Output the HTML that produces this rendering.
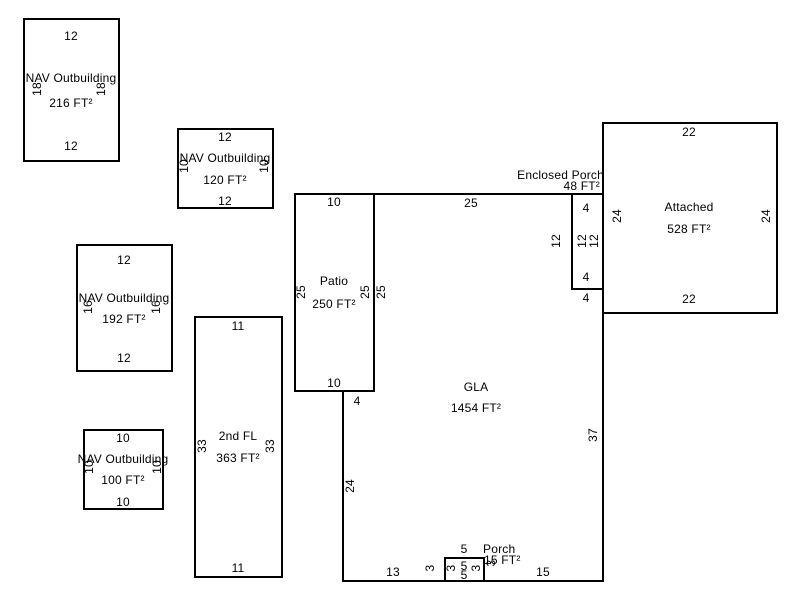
<!DOCTYPE html>
<html><head><meta charset="utf-8"><style>
html,body{margin:0;padding:0;background:#fff;}
svg{display:block;}
text{font-family:"Liberation Sans",Arial,sans-serif;font-size:12px;letter-spacing:0.2px;fill:#000;text-anchor:middle;dominant-baseline:central;}
.r{fill:none;stroke:#000;stroke-width:2;}
</style></head><body>
<svg width="800" height="600" xmlns="http://www.w3.org/2000/svg">
<!-- NAV 1 -->
<rect class="r" x="24" y="19" width="95" height="142"/>
<text x="71" y="36">12</text>
<text x="71" y="78">NAV Outbuilding</text>
<text transform="translate(37,89) rotate(-90)">18</text>
<text transform="translate(101,89) rotate(-90)">18</text>
<text x="71" y="103">216 FT²</text>
<text x="71" y="146">12</text>
<!-- NAV 2 -->
<rect class="r" x="178" y="129" width="95" height="79"/>
<text x="225" y="137">12</text>
<text x="225" y="158">NAV Outbuilding</text>
<text transform="translate(184,166) rotate(-90)">10</text>
<text transform="translate(264,166) rotate(-90)">10</text>
<text x="225" y="180">120 FT²</text>
<text x="225" y="201">12</text>
<!-- NAV 3 -->
<rect class="r" x="77" y="245" width="95" height="126"/>
<text x="124" y="260">12</text>
<text x="124" y="298">NAV Outbuilding</text>
<text transform="translate(88,307) rotate(-90)">16</text>
<text transform="translate(156,307) rotate(-90)">16</text>
<text x="124" y="319">192 FT²</text>
<text x="124" y="358">12</text>
<!-- NAV 4 -->
<rect class="r" x="84" y="430" width="79" height="79"/>
<text x="123" y="438">10</text>
<text x="123" y="459">NAV Outbuilding</text>
<text transform="translate(89,467) rotate(-90)">10</text>
<text transform="translate(157,467) rotate(-90)">10</text>
<text x="123" y="480">100 FT²</text>
<text x="123" y="502">10</text>
<!-- 2nd FL -->
<rect class="r" x="195" y="317" width="87" height="260"/>
<text x="238" y="326">11</text>
<text x="238" y="436">2nd FL</text>
<text transform="translate(202,446) rotate(-90)">33</text>
<text transform="translate(270,446) rotate(-90)">33</text>
<text x="238" y="458">363 FT²</text>
<text x="238" y="568">11</text>
<!-- Patio -->
<rect class="r" x="295" y="194" width="79" height="197"/>
<text x="334" y="202">10</text>
<text x="334" y="281">Patio</text>
<text transform="translate(301,292) rotate(-90)">25</text>
<text transform="translate(365,292) rotate(-90)">25</text>
<text transform="translate(381,292) rotate(-90)">25</text>
<text x="334" y="304">250 FT²</text>
<text x="334" y="383">10</text>
<!-- GLA -->
<polyline class="r" points="374,194 603,194 603,581 343,581 343,391 374,391"/>
<text x="471" y="203">25</text>
<text transform="translate(556,241) rotate(-90)">12</text>
<text x="357" y="401">4</text>
<text x="476" y="387">GLA</text>
<text x="476" y="408">1454 FT²</text>
<text transform="translate(593,435) rotate(-90)">37</text>
<text transform="translate(350,486) rotate(-90)">24</text>
<text x="393" y="572">13</text>
<text transform="translate(430,568) rotate(-90)">3</text>
<text x="543" y="572">15</text>
<!-- Enclosed Porch -->
<rect class="r" x="572" y="194" width="31" height="95"/>
<text x="604" y="175" style="text-anchor:end">Enclosed Porch</text>
<text x="600" y="186" style="text-anchor:end">48 FT²</text>
<text x="586" y="208">4</text>
<text transform="translate(582,241) rotate(-90)">12</text>
<text transform="translate(594,241) rotate(-90)">12</text>
<text x="586" y="277">4</text>
<text x="586" y="298">4</text>
<!-- Attached -->
<rect class="r" x="603" y="123" width="174" height="190"/>
<text x="689" y="132">22</text>
<text x="689" y="207">Attached</text>
<text transform="translate(617,216) rotate(-90)">24</text>
<text transform="translate(766,216) rotate(-90)">24</text>
<text x="689" y="229">528 FT²</text>
<text x="689" y="299">22</text>
<!-- Porch -->
<rect class="r" x="445" y="558" width="39" height="23"/>
<text x="464" y="549">5</text>
<text x="483" y="549" style="text-anchor:start">Porch</text>
<text x="484" y="560" style="text-anchor:start">15 FT²</text>
<text transform="translate(451,568) rotate(-90)">3</text>
<text transform="translate(476,568) rotate(-90)">3</text>
<text transform="translate(491,563) rotate(-90)">3</text>
<text x="464" y="566">5</text>
<text x="464" y="575">5</text>
</svg>
</body></html>
